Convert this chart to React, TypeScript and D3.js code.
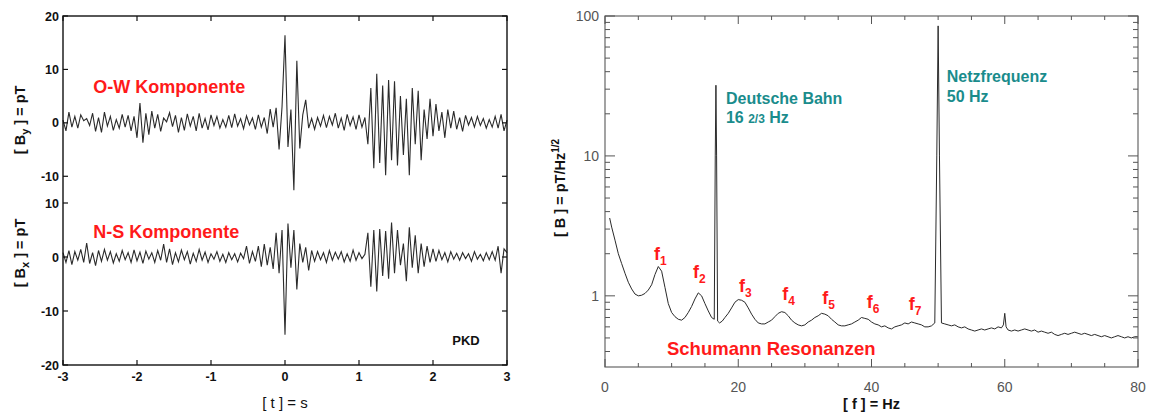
import React from 'react';
import * as d3 from 'd3';

// ---------- time series (left chart) ----------
const tStart = -3;
const tStep = 0.04;
const timeTicks = [-3, -2, -1, 0, 1, 2, 3];
const owTicks = [20, 10, 0, -10];
const nsTicks = [10, 0, -10, -20];

const owValues = [
  0.5, -1.5, 2.0, -0.8, 1.2, -1.0, 1.5, 0.4, 0.8, -0.5,
  1.8, -1.6, 1.0, -1.8, 2.0, -0.6, 1.2, -1.4, 0.6, -1.0,
  1.6, -0.8, 1.4, -1.5, 1.2, -2.8, 3.7, -3.7, 1.8, -2.2,
  2.2, -1.0, 1.6, -1.6, 0.9, 0.2, 1.9, -0.7, 1.4, -1.8,
  1.0, -1.4, 1.7, -0.6, 1.2, -1.5, 1.8, -1.0, 0.8, -1.3,
  1.5, -0.5, 1.2, -1.0, 0.6, -0.8, 1.4, -0.9, 1.7, -0.6,
  0.8, -1.1, 1.3, -0.4, 0.9, -1.2, 1.5, -0.8, 1.0, -2.0,
  2.6, -0.8, 2.8, -5.0, 3.0, 16.4, -4.5, 2.5, -12.6, 11.6,
  -4.8, 1.5, 4.3, -1.0, 0.8, -1.2, 1.0, -0.6, 1.4, -0.9,
  1.2, -0.4, 1.8, -1.0, 0.9, -1.4, 1.6, -0.5, 1.1, -1.2,
  1.5, -0.8, 1.0, -4.0, 6.5, -8.5, 9.2, -7.5, 7.0, -9.8,
  8.0, -7.0, 7.8, -8.0, 5.0, -6.0, 4.5, -9.8, 6.5, -4.0,
  6.0, -7.0, 2.5, -3.0, 4.5, -2.5, 3.5, -1.5, 2.0, -2.8,
  2.5, -1.0, 2.2, -1.2, 1.0, -1.6, 1.4, -0.4, 1.0, -0.8,
  1.2, -0.5, 0.8, -1.0, 0.6, -0.8, 1.2, -1.0, 1.6, -1.5,
  0.5,
];

const nsValues = [
  0.8, -1.0, 1.2, -1.4, 1.0, -0.6, 1.4, -1.0, 2.6, -1.2,
  0.8, -1.6, 1.2, -0.8, 1.4, -0.6, 1.0, -1.1, 0.6, -0.8,
  1.2, -0.5, 0.8, -1.0, 1.3, -0.7, 0.9, -1.2, 1.1, -0.4,
  0.8, -1.0, 1.2, -0.6, 2.4, -1.0, 1.5, -1.4, 0.8, -0.9,
  1.3, -0.5, 1.0, -1.3, 0.7, -0.8, 1.4, -0.6, 0.9, -1.0,
  0.6, -0.4, 1.0, -0.8, 0.5, -1.0, 0.8, -0.5, 0.6, -0.9,
  0.7, -0.3, 2.0, -1.2, 1.0, -0.8, 2.0, -1.8, 2.4, -1.5,
  1.8, -2.2, 4.5, -3.0, 5.0, -14.4, 6.2, -2.0, 5.0, -6.0,
  2.5, -1.0, 1.8, -2.5, 1.2, -0.8, 1.0, -0.5, 0.8, -1.0,
  1.2, -0.6, 0.9, -0.4, 1.0, -0.9, 0.6, -0.8, 1.3, -0.6,
  0.8, -0.3, 0.5, 4.5, -5.5, 5.0, -6.4, 5.2, -3.5, 4.8,
  -4.0, 6.4, -3.0, 5.0, -1.5, 2.5, -4.5, 5.5, -2.0, 4.0,
  -3.0, 2.5, -1.8, 2.0, -1.0, 1.5, -0.8, 1.2, -0.5, 0.8,
  -0.9, 1.0, -0.4, 0.7, -0.6, 0.8, -0.3, 0.6, -0.8, 1.0,
  -0.4, 0.5, -0.7, 0.8, -0.5, 1.0, -0.6, 2.0, -3.0, 1.5,
  0.8,
];

// ---------- spectrum (right chart) ----------
const specFreq = [
  0.7, 1.0, 1.5, 2.0, 2.5, 3.0, 3.5, 4.0, 4.5, 5.0,
  5.5, 6.0, 6.5, 7.0, 7.5, 8.0, 8.5, 9.0, 9.5, 10.0,
  10.5, 11.0, 11.5, 12.0, 12.5, 13.0, 13.5, 14.0, 14.5, 15.0,
  15.5, 16.0, 16.4, 16.55, 16.65, 16.75, 16.9, 17.2, 17.6, 18.0,
  18.5, 19.0, 19.5, 20.0, 20.5, 21.0, 21.5, 22.0, 22.5, 23.0,
  23.5, 24.0, 24.5, 25.0, 25.5, 26.0, 26.5, 27.0, 27.5, 28.0,
  28.5, 29.0, 29.5, 30.0, 30.5, 31.0, 31.5, 32.0, 32.5, 33.0,
  33.5, 34.0, 34.5, 35.0, 35.5, 36.0, 36.5, 37.0, 37.5, 38.0,
  38.5, 39.0, 39.5, 40.0, 40.5, 41.0, 41.5, 42.0, 42.5, 43.0,
  43.5, 44.0, 44.5, 45.0, 45.5, 46.0, 46.5, 47.0, 47.5, 48.0,
  48.5, 49.0, 49.5, 49.8, 50.0, 50.2, 50.5, 51.0, 51.5, 52.0,
  52.5, 53.0, 53.5, 54.0, 54.5, 55.0, 55.5, 56.0, 56.5, 57.0,
  57.5, 58.0, 58.5, 59.0, 59.5, 59.8, 60.0, 60.2, 60.5, 61.0,
  61.5, 62.0, 62.5, 63.0, 63.5, 64.0, 64.5, 65.0, 65.5, 66.0,
  66.5, 67.0, 67.5, 68.0, 68.5, 69.0, 69.5, 70.0, 70.5, 71.0,
  71.5, 72.0, 72.5, 73.0, 73.5, 74.0, 74.5, 75.0, 75.5, 76.0,
  76.5, 77.0, 77.5, 78.0, 78.5, 79.0, 79.5, 80.0,
];
const specAmp = [
  3.6, 3.1, 2.5, 2.0, 1.7, 1.45, 1.25, 1.12, 1.03, 1.0,
  1.01, 1.04, 1.1, 1.2, 1.42, 1.62, 1.5, 1.15, 0.88, 0.76,
  0.71, 0.68, 0.67, 0.7, 0.76, 0.84, 0.95, 1.05, 1.0, 0.88,
  0.78, 0.7, 0.68, 10, 32, 10, 0.66, 0.64, 0.66, 0.7,
  0.75, 0.82, 0.9, 0.94, 0.93, 0.9, 0.82, 0.74, 0.68, 0.64,
  0.63, 0.63, 0.65, 0.67, 0.71, 0.75, 0.77, 0.76, 0.72, 0.67,
  0.64, 0.62, 0.61, 0.62, 0.65, 0.67, 0.7, 0.72, 0.75, 0.74,
  0.72, 0.68, 0.65, 0.62, 0.61, 0.61, 0.62, 0.63, 0.65, 0.67,
  0.7, 0.69, 0.68, 0.65, 0.63, 0.62, 0.6, 0.61, 0.59, 0.58,
  0.6, 0.61, 0.62, 0.64, 0.63, 0.65, 0.64, 0.63, 0.62, 0.6,
  0.6, 0.61, 0.64, 10, 85, 10, 0.64, 0.63, 0.62, 0.61,
  0.62, 0.6, 0.59, 0.6, 0.58, 0.57, 0.56, 0.57, 0.58, 0.57,
  0.58, 0.59, 0.58, 0.6, 0.59, 0.62, 0.75, 0.6, 0.57, 0.56,
  0.57, 0.56, 0.57, 0.58, 0.57, 0.56, 0.57, 0.55, 0.56, 0.55,
  0.54, 0.55, 0.53, 0.52, 0.53, 0.54, 0.53, 0.54, 0.55, 0.54,
  0.53, 0.54, 0.53, 0.52, 0.53, 0.52, 0.51, 0.52, 0.51, 0.5,
  0.51, 0.52, 0.51, 0.5, 0.51, 0.5, 0.51, 0.51,
];

const freqMajor = [0, 20, 40, 60, 80];
const ampMajor = [1, 10, 100];
const resonanceLabels = ['1', '2', '3', '4', '5', '6', '7'];
const resonanceFreq = [7.35, 13.2, 20.1, 26.6, 32.6, 39.3, 45.6];
const resonanceAmp = [1.81, 1.34, 1.07, 0.94, 0.88, 0.82, 0.79];

const FONT = "'Liberation Sans', Arial, Helvetica, sans-serif";
const RED = '#ff1a1a';
const TEAL = '#1a8c8c';

export default function App() {
  // left chart scales
  const xT = d3.scaleLinear().domain([-3, 3]).range([63, 507]);
  const yOW = d3.scaleLinear().domain([-15, 20]).range([203, 16]);
  const yNS = d3.scaleLinear().domain([-20, 10]).range([365, 203]);
  const owLine = d3
    .line<number>()
    .x((_, i) => xT(tStart + i * tStep))
    .y((d) => yOW(d));
  const nsLine = d3
    .line<number>()
    .x((_, i) => xT(tStart + i * tStep))
    .y((d) => yNS(d));

  // right chart scales
  const xF = d3.scaleLinear().domain([0, 80]).range([605, 1138]);
  const yA = d3.scaleLog().domain([0.31, 100]).range([367, 16]);
  const specLine = d3
    .line<number>()
    .x((_, i) => xF(specFreq[i]))
    .y((d) => yA(d));
  const freqMinor = d3.range(0, 81, 5);
  const ampTicks = yA.ticks();

  const L = { x0: 63, x1: 507, y0: 16, y1: 365 };
  const R = { x0: 605, x1: 1138, y0: 16, y1: 367 };

  return (
    <svg
      width={1152}
      height={414}
      style={{ position: 'absolute', left: 0, top: 0, background: '#fff' }}
      fontFamily={FONT}
    >
      {/* ================= LEFT CHART ================= */}
      <g>
        <path d={owLine(owValues) || ''} fill="none" stroke="#2a2a2a" strokeWidth={1.1} />
        <path d={nsLine(nsValues) || ''} fill="none" stroke="#2a2a2a" strokeWidth={1.1} />

        <rect x={L.x0} y={L.y0} width={L.x1 - L.x0} height={L.y1 - L.y0} fill="none" stroke="#111" strokeWidth={1.4} />

        {timeTicks.map((t) => (
          <g key={'tt' + t}>
            <line x1={xT(t)} x2={xT(t)} y1={L.y1} y2={L.y1 - 5} stroke="#111" strokeWidth={1.2} />
            <line x1={xT(t)} x2={xT(t)} y1={L.y0} y2={L.y0 + 5} stroke="#111" strokeWidth={1.2} />
            <text x={xT(t)} y={381} textAnchor="middle" fontSize={12.5} fontWeight="bold" fill="#111">
              {t}
            </text>
          </g>
        ))}

        {owTicks.map((v) => (
          <g key={'ow' + v}>
            <line x1={L.x0} x2={L.x0 + 5} y1={yOW(v)} y2={yOW(v)} stroke="#111" strokeWidth={1.2} />
            <line x1={L.x1} x2={L.x1 - 5} y1={yOW(v)} y2={yOW(v)} stroke="#111" strokeWidth={1.2} />
            <text x={59} y={yOW(v)} dy="0.36em" textAnchor="end" fontSize={12.5} fontWeight="bold" fill="#111">
              {v}
            </text>
          </g>
        ))}
        {nsTicks.map((v) => (
          <g key={'ns' + v}>
            <line x1={L.x0} x2={L.x0 + 5} y1={yNS(v)} y2={yNS(v)} stroke="#111" strokeWidth={1.2} />
            <line x1={L.x1} x2={L.x1 - 5} y1={yNS(v)} y2={yNS(v)} stroke="#111" strokeWidth={1.2} />
            <text x={59} y={yNS(v)} dy="0.36em" textAnchor="end" fontSize={12.5} fontWeight="bold" fill="#111">
              {v}
            </text>
          </g>
        ))}

        <text x={xT(0)} y={408} textAnchor="middle" fontSize={15} fill="#111">
          [ t ] = s
        </text>
        <text transform={`translate(25,${yOW(0) - 3}) rotate(-90)`} textAnchor="middle" fontSize={14.5} fontWeight="bold" fill="#111">
          [ B<tspan dy={4} fontSize={11}>y</tspan>
          <tspan dy={-4}> ] = pT</tspan>
        </text>
        <text transform={`translate(25,${yNS(0) - 4}) rotate(-90)`} textAnchor="middle" fontSize={14.5} fontWeight="bold" fill="#111">
          [ B<tspan dy={4} fontSize={11}>x</tspan>
          <tspan dy={-4}> ] = pT</tspan>
        </text>

        <text x={xT(-2.59)} y={yOW(5.6)} fontSize={18} fontWeight="bold" fill={RED}>
          O-W Komponente
        </text>
        <text x={xT(-2.59)} y={yNS(3.5)} fontSize={18} fontWeight="bold" fill={RED}>
          N-S Komponente
        </text>
        <text x={xT(2.26)} y={yNS(-16.3)} fontSize={13} fontWeight="bold" fill="#111">
          PKD
        </text>
      </g>

      {/* ================= RIGHT CHART ================= */}
      <g>
        <path d={specLine(specAmp) || ''} fill="none" stroke="#2a2a2a" strokeWidth={1} />

        <rect x={R.x0} y={R.y0} width={R.x1 - R.x0} height={R.y1 - R.y0} fill="none" stroke="#666" strokeWidth={1.2} />

        {freqMinor.map((f) => {
          const len = freqMajor.includes(f) ? 8 : 4;
          return (
            <g key={'fx' + f}>
              <line x1={xF(f)} x2={xF(f)} y1={R.y1} y2={R.y1 - len} stroke="#555" strokeWidth={1} />
              <line x1={xF(f)} x2={xF(f)} y1={R.y0} y2={R.y0 + len} stroke="#555" strokeWidth={1} />
            </g>
          );
        })}
        {freqMajor.map((f) => (
          <text key={'fl' + f} x={xF(f)} y={392} textAnchor="middle" fontSize={14} fill="#555">
            {f}
          </text>
        ))}

        {ampTicks.map((a) => {
          const major = ampMajor.some((m) => Math.abs(m - a) < 1e-9);
          const len = major ? 10 : 5;
          return (
            <g key={'ay' + a}>
              <line x1={R.x0} x2={R.x0 + len} y1={yA(a)} y2={yA(a)} stroke="#555" strokeWidth={1} />
              <line x1={R.x1} x2={R.x1 - len} y1={yA(a)} y2={yA(a)} stroke="#555" strokeWidth={1} />
            </g>
          );
        })}
        {ampMajor.map((a) => (
          <text key={'al' + a} x={599} y={yA(a)} dy="0.36em" textAnchor="end" fontSize={14} fill="#555">
            {a}
          </text>
        ))}

        <text x={xF(40)} y={409} textAnchor="middle" fontSize={14.5} fontWeight="bold" fill="#111">
          [ f ] = Hz
        </text>
        <text transform={`translate(565,188) rotate(-90)`} textAnchor="middle" fontSize={14.5} fontWeight="bold" fill="#111">
          [ B ] = pT/Hz<tspan dy={-6} fontSize={10}>1/2</tspan>
        </text>

        <text x={xF(18.15)} y={yA(23.5)} fontSize={16} fontWeight="bold" fill={TEAL}>
          Deutsche Bahn
        </text>
        <text x={xF(18.15)} y={yA(23.5) + 19} fontSize={16} fontWeight="bold" fill={TEAL}>
          16 <tspan fontSize={12}>2/3</tspan> Hz
        </text>
        <text x={xF(51.3)} y={yA(33.8)} fontSize={16} fontWeight="bold" fill={TEAL}>
          Netzfrequenz
        </text>
        <text x={xF(51.3)} y={yA(33.8) + 20} fontSize={16} fontWeight="bold" fill={TEAL}>
          50 Hz
        </text>

        {resonanceLabels.map((lab, i) => (
          <text key={'f' + lab} x={xF(resonanceFreq[i])} y={yA(resonanceAmp[i])} fontSize={18} fontWeight="bold" fill={RED}>
            f<tspan dy={5} fontSize={12}>{lab}</tspan>
          </text>
        ))}
        <text x={xF(9.3)} y={yA(0.375)} fontSize={18.5} fontWeight="bold" fill={RED}>
          Schumann Resonanzen
        </text>
      </g>
    </svg>
  );
}
